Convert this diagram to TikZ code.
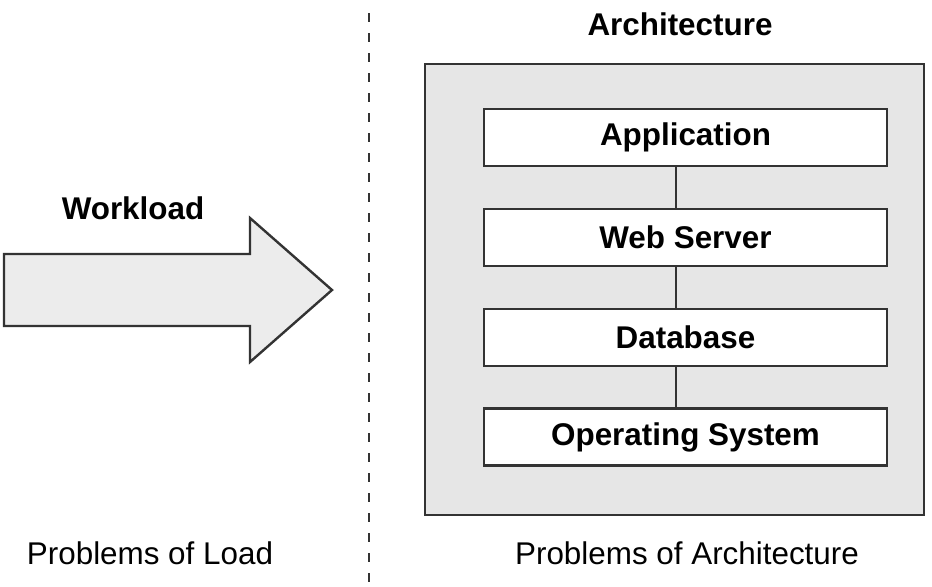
\documentclass[tikz,border=0pt]{standalone}
\usepackage{fontspec}
\setmainfont{Liberation Sans}

\definecolor{boxgray}{HTML}{E6E6E6}
\definecolor{arrowgray}{HTML}{ECECEC}
\definecolor{linegray}{HTML}{333333}

\tikzset{
  layer/.style={draw=linegray, line width=1.2pt, fill=white,
    minimum width=201.5pt, minimum height=28.5pt, inner sep=0pt,
    font=\fontsize{15.7}{18}\selectfont\bfseries},
  title/.style={font=\fontsize{15.7}{18}\selectfont\bfseries},
  caption/.style={font=\fontsize{15.7}{18}\selectfont},
}

\begin{document}
\begin{tikzpicture}[x=0.5pt, y=-0.5pt]
  \useasboundingbox (0,0) rectangle (932,586);

  % Divider
  \draw[linegray, line width=1pt, dash pattern=on 4.5pt off 5.5pt] (369,13) -- (369,586);

  % Workload arrow
  \draw[draw=linegray, line width=1.2pt, fill=arrowgray]
    (4,254) -- (250,254) -- (250,218) -- (332,290) -- (250,362) -- (250,326) -- (4,326) -- cycle;
  \node[title] (workload) at (133,208) {Workload};

  % Architecture stack
  \draw[draw=linegray, line width=1.2pt, fill=boxgray] (425,64) rectangle (924,515);
  \node[title] (arch) at (680,24) {Architecture};

  \node[layer] (app) at (685.5,137.5) {Application};
  \node[layer] (web) at (685.5,237.5) {Web Server};
  \node[layer] (db)  at (685.5,337.5) {Database};
  \node[layer] (os)  at (685.5,437) {Operating System};

  \foreach \a/\b in {app/web, web/db, db/os}
    \draw[linegray, line width=1.2pt] ([xshift=-4.75pt]\a.south) -- ([xshift=-4.75pt]\b.north);

  % Captions
  \node[caption] (loadcap) at (150,553) {Problems of Load};
  \node[caption] (archcap) at (687,553) {Problems of Architecture};
\end{tikzpicture}
\end{document}
